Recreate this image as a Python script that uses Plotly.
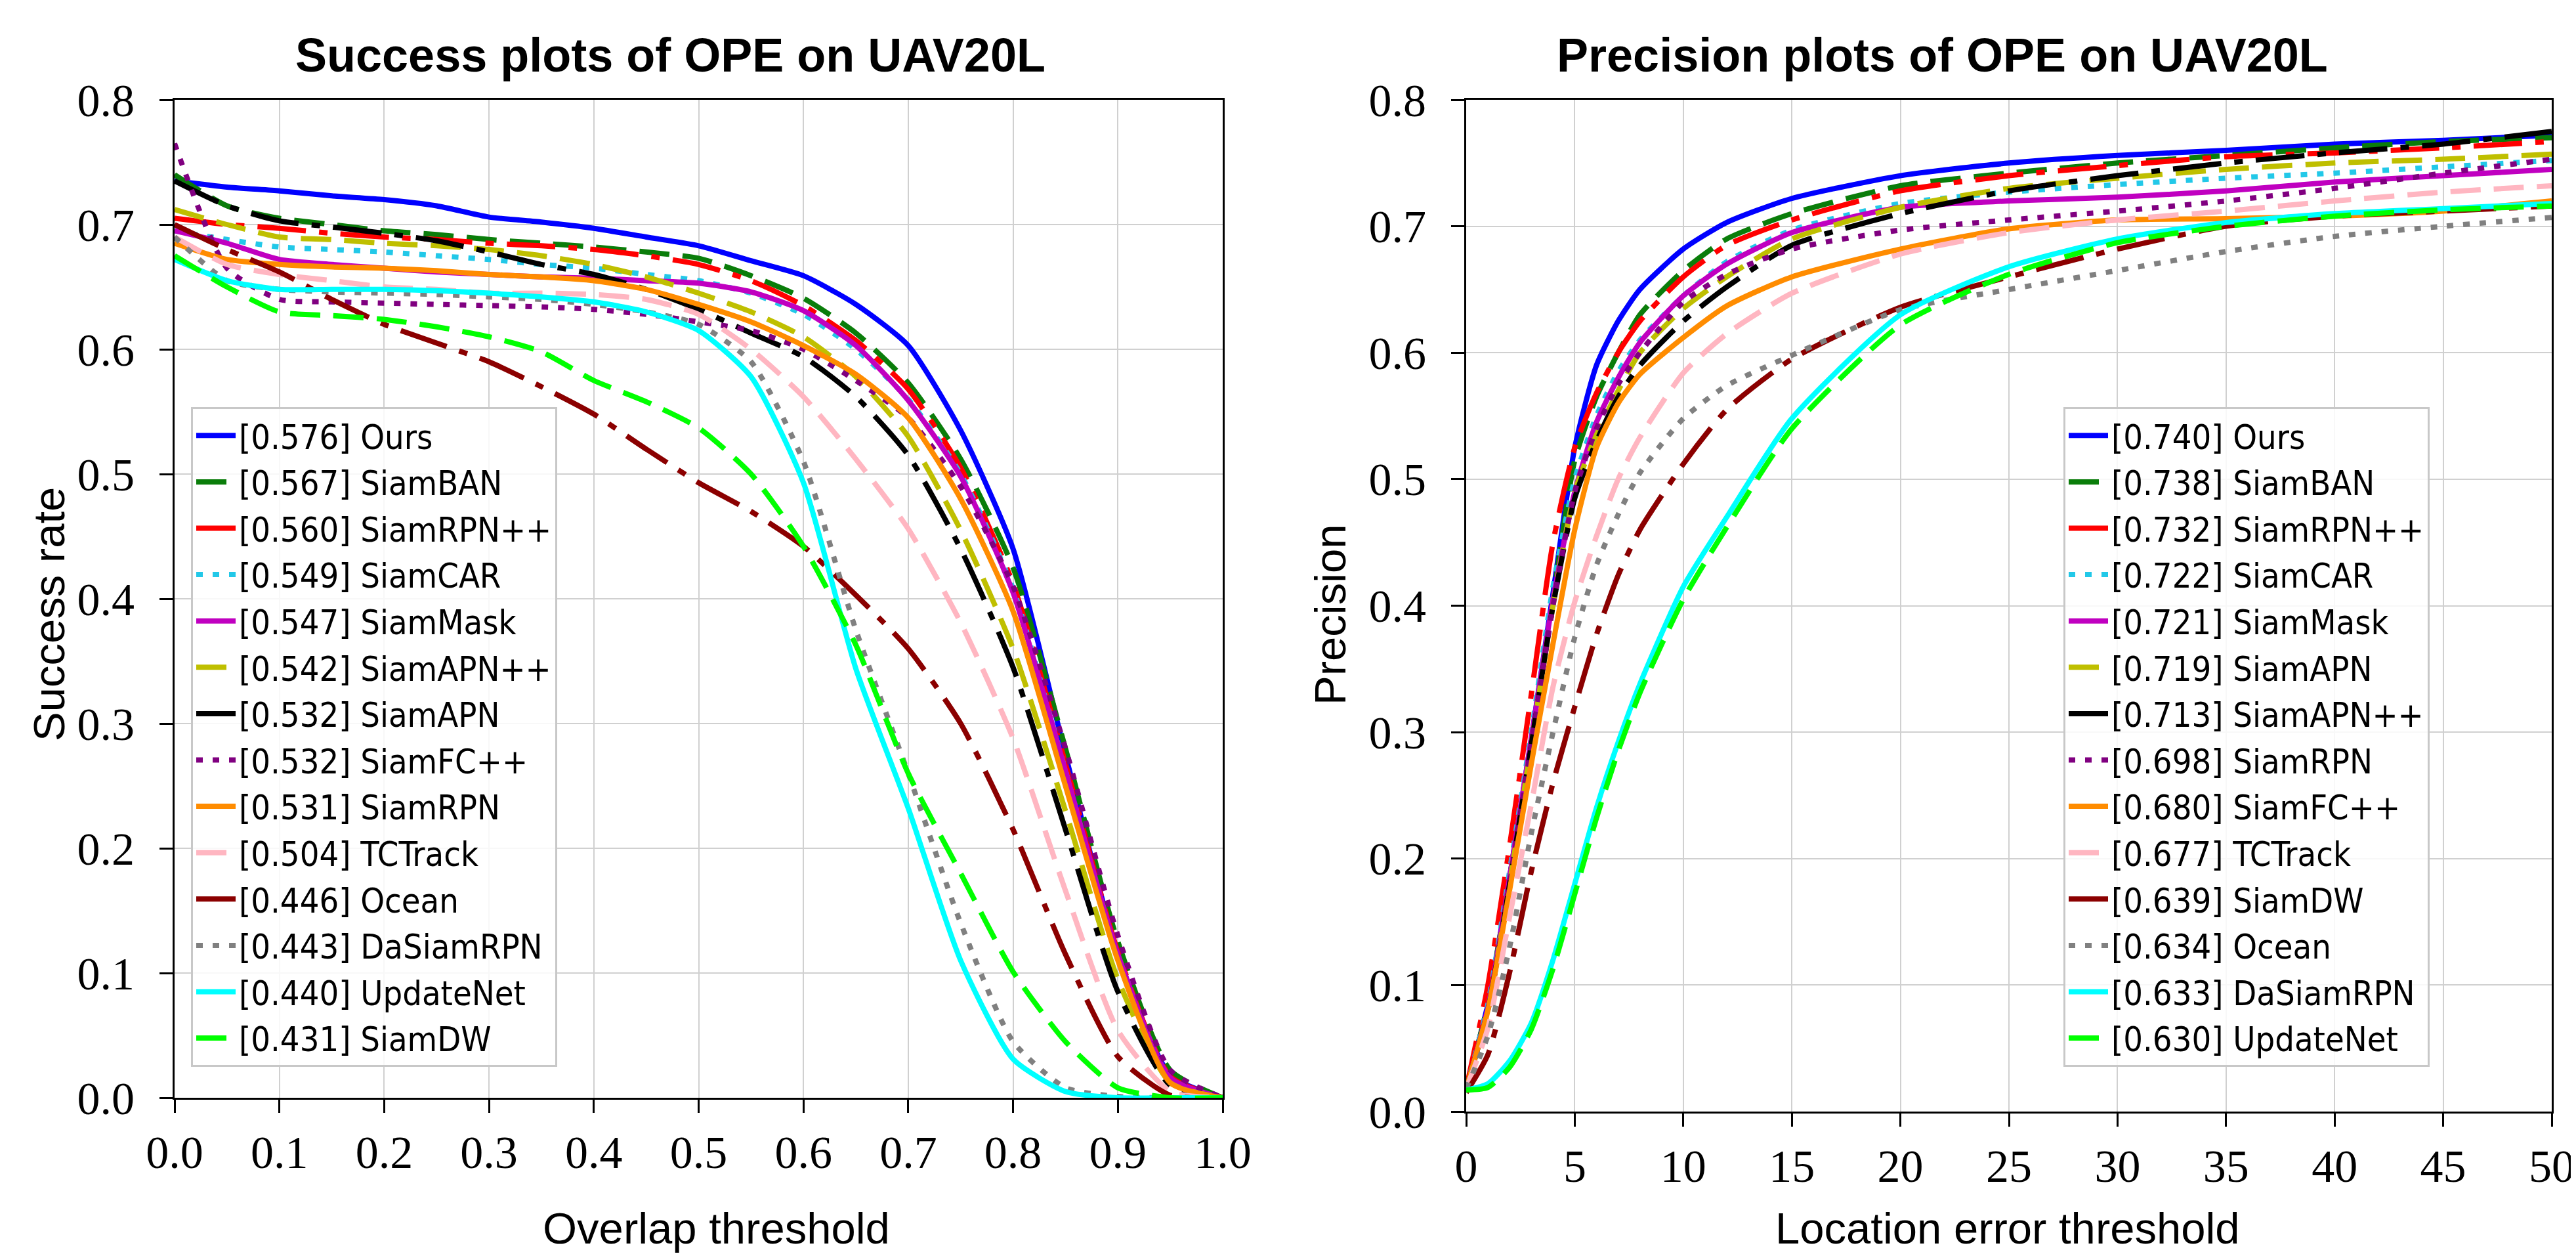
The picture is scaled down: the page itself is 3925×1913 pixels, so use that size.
import plotly.graph_objects as go

# Success plot (overlap threshold 0..1)
success_x = [0.0, 0.05, 0.1, 0.15, 0.2, 0.25, 0.3, 0.35, 0.4, 0.45, 0.5,
             0.55, 0.6, 0.65, 0.7, 0.75, 0.8, 0.85, 0.9, 0.95, 1.0]
success_names = ["Ours", "SiamBAN", "SiamRPN++", "SiamCAR", "SiamMask", "SiamAPN++", "SiamAPN",
                 "SiamFC++", "SiamRPN", "TCTrack", "Ocean", "DaSiamRPN", "UpdateNet", "SiamDW"]
success_auc = [0.576, 0.567, 0.560, 0.549, 0.547, 0.542, 0.532, 0.532, 0.531, 0.504, 0.446, 0.443, 0.440, 0.431]

succ_ours = [0.735, 0.730, 0.727, 0.723, 0.720, 0.715, 0.706, 0.702, 0.697, 0.690, 0.683,
             0.671, 0.659, 0.636, 0.603, 0.535, 0.440, 0.275, 0.115, 0.018, 0.0]
succ_siamban = [0.740, 0.715, 0.705, 0.700, 0.695, 0.692, 0.688, 0.685, 0.682, 0.678, 0.673,
                0.659, 0.641, 0.613, 0.573, 0.512, 0.425, 0.280, 0.125, 0.022, 0.0]
succ_siamrpnpp = [0.705, 0.700, 0.697, 0.693, 0.690, 0.688, 0.685, 0.683, 0.680, 0.675, 0.668,
                  0.655, 0.635, 0.607, 0.568, 0.505, 0.412, 0.268, 0.117, 0.017, 0.0]
succ_siamcar = [0.695, 0.688, 0.682, 0.680, 0.678, 0.675, 0.672, 0.668, 0.665, 0.660, 0.655,
                0.645, 0.628, 0.600, 0.560, 0.500, 0.408, 0.262, 0.112, 0.015, 0.0]
succ_siammask = [0.695, 0.685, 0.672, 0.668, 0.665, 0.662, 0.660, 0.658, 0.657, 0.655, 0.653,
                 0.646, 0.631, 0.603, 0.559, 0.498, 0.405, 0.262, 0.115, 0.016, 0.0]
succ_siamapnpp = [0.712, 0.700, 0.690, 0.688, 0.685, 0.683, 0.680, 0.675, 0.668, 0.658, 0.645,
                  0.630, 0.610, 0.578, 0.530, 0.455, 0.360, 0.230, 0.095, 0.012, 0.0]
succ_siamapn = [0.735, 0.715, 0.703, 0.698, 0.693, 0.687, 0.678, 0.668, 0.660, 0.648, 0.632,
                0.613, 0.594, 0.562, 0.515, 0.440, 0.345, 0.215, 0.085, 0.010, 0.0]
succ_siamfcpp = [0.765, 0.665, 0.640, 0.638, 0.637, 0.636, 0.635, 0.634, 0.632, 0.628, 0.622,
                 0.615, 0.600, 0.575, 0.545, 0.490, 0.410, 0.280, 0.130, 0.022, 0.0]
succ_siamrpn = [0.685, 0.672, 0.668, 0.666, 0.665, 0.663, 0.660, 0.658, 0.655, 0.648, 0.636,
                0.622, 0.603, 0.580, 0.545, 0.480, 0.390, 0.250, 0.110, 0.012, 0.0]
succ_tctrack = [0.690, 0.668, 0.660, 0.655, 0.650, 0.648, 0.645, 0.645, 0.644, 0.640, 0.628,
                0.600, 0.562, 0.512, 0.456, 0.381, 0.288, 0.166, 0.054, 0.005, 0.0]
succ_ocean = [0.700, 0.680, 0.662, 0.640, 0.620, 0.605, 0.590, 0.570, 0.548, 0.520, 0.493,
              0.470, 0.442, 0.403, 0.360, 0.300, 0.215, 0.115, 0.033, 0.002, 0.0]
succ_dasiamrpn = [0.690, 0.655, 0.648, 0.646, 0.645, 0.644, 0.642, 0.640, 0.636, 0.630, 0.620,
                  0.590, 0.510, 0.375, 0.260, 0.140, 0.045, 0.008, 0.001, 0.0, 0.0]
succ_updatenet = [0.672, 0.655, 0.648, 0.648, 0.648, 0.647, 0.645, 0.642, 0.638, 0.630, 0.615,
                  0.578, 0.493, 0.344, 0.232, 0.110, 0.031, 0.005, 0.0, 0.0, 0.0]
succ_siamdw = [0.675, 0.650, 0.630, 0.627, 0.624, 0.618, 0.610, 0.598, 0.575, 0.558, 0.537,
               0.500, 0.442, 0.363, 0.260, 0.180, 0.101, 0.045, 0.008, 0.0, 0.0]

success_curves = [succ_ours, succ_siamban, succ_siamrpnpp, succ_siamcar, succ_siammask,
                  succ_siamapnpp, succ_siamapn, succ_siamfcpp, succ_siamrpn, succ_tctrack,
                  succ_ocean, succ_dasiamrpn, succ_updatenet, succ_siamdw]

# Precision plot (location error threshold 0..50)
precision_x = [0, 1, 2, 3, 4, 5, 6, 7, 8, 10, 12, 15, 20, 25, 30, 35, 40, 45, 50]
precision_names = ["Ours", "SiamBAN", "SiamRPN++", "SiamCAR", "SiamMask", "SiamAPN", "SiamAPN++",
                   "SiamRPN", "SiamFC++", "TCTrack", "SiamDW", "Ocean", "DaSiamRPN", "UpdateNet"]
precision_score = [0.740, 0.738, 0.732, 0.722, 0.721, 0.719, 0.713, 0.698, 0.680, 0.677, 0.639, 0.634, 0.633, 0.630]

prec_ours = [0.018, 0.085, 0.185, 0.295, 0.410, 0.525, 0.590, 0.625, 0.650, 0.682, 0.703,
             0.722, 0.740, 0.750, 0.756, 0.760, 0.765, 0.768, 0.772]
prec_siamban = [0.018, 0.085, 0.185, 0.290, 0.405, 0.515, 0.565, 0.600, 0.630, 0.665, 0.690,
                0.710, 0.732, 0.742, 0.750, 0.756, 0.762, 0.767, 0.770]
prec_siamrpnpp = [0.018, 0.100, 0.210, 0.330, 0.450, 0.525, 0.568, 0.600, 0.625, 0.660, 0.685,
                  0.705, 0.728, 0.740, 0.748, 0.755, 0.758, 0.762, 0.767]
prec_siamcar = [0.018, 0.085, 0.190, 0.300, 0.415, 0.500, 0.550, 0.585, 0.610, 0.645, 0.672,
                0.697, 0.718, 0.727, 0.733, 0.738, 0.742, 0.747, 0.752]
prec_siammask = [0.018, 0.082, 0.185, 0.295, 0.405, 0.490, 0.545, 0.580, 0.608, 0.645, 0.670,
                 0.695, 0.715, 0.720, 0.723, 0.728, 0.735, 0.740, 0.745]
prec_siamapn = [0.018, 0.080, 0.180, 0.290, 0.400, 0.490, 0.535, 0.570, 0.600, 0.635, 0.660,
                0.690, 0.715, 0.730, 0.738, 0.745, 0.750, 0.753, 0.757]
prec_siamapnpp = [0.018, 0.080, 0.180, 0.290, 0.400, 0.485, 0.530, 0.565, 0.590, 0.625, 0.652,
                  0.685, 0.710, 0.728, 0.740, 0.750, 0.758, 0.765, 0.775]
prec_siamrpn = [0.018, 0.080, 0.180, 0.290, 0.400, 0.490, 0.540, 0.575, 0.600, 0.640, 0.662,
                0.682, 0.697, 0.705, 0.712, 0.720, 0.730, 0.742, 0.753]
prec_siamfcpp = [0.018, 0.080, 0.175, 0.275, 0.370, 0.460, 0.525, 0.560, 0.583, 0.612, 0.637,
                 0.660, 0.682, 0.698, 0.705, 0.706, 0.708, 0.712, 0.720]
prec_tctrack = [0.018, 0.066, 0.154, 0.243, 0.336, 0.403, 0.455, 0.500, 0.533, 0.584, 0.615,
                0.647, 0.678, 0.695, 0.705, 0.712, 0.720, 0.727, 0.732]
prec_siamdw = [0.015, 0.045, 0.110, 0.190, 0.260, 0.320, 0.377, 0.424, 0.460, 0.512, 0.555,
               0.595, 0.636, 0.660, 0.682, 0.700, 0.708, 0.712, 0.716]
prec_ocean = [0.018, 0.060, 0.130, 0.220, 0.300, 0.375, 0.432, 0.472, 0.505, 0.548, 0.574,
              0.598, 0.634, 0.650, 0.665, 0.680, 0.692, 0.700, 0.707]
prec_dasiamrpn = [0.017, 0.022, 0.040, 0.070, 0.120, 0.180, 0.240, 0.292, 0.338, 0.415, 0.470,
                  0.548, 0.630, 0.668, 0.690, 0.703, 0.710, 0.714, 0.718]
prec_updatenet = [0.017, 0.019, 0.035, 0.065, 0.113, 0.172, 0.232, 0.285, 0.331, 0.405, 0.462,
                  0.540, 0.622, 0.662, 0.687, 0.700, 0.708, 0.713, 0.716]

precision_curves = [prec_ours, prec_siamban, prec_siamrpnpp, prec_siamcar, prec_siammask,
                    prec_siamapn, prec_siamapnpp, prec_siamrpn, prec_siamfcpp, prec_tctrack,
                    prec_siamdw, prec_ocean, prec_dasiamrpn, prec_updatenet]

# line styles by rank (same for both plots)
colors = ["#0000FF", "#0A7D0A", "#FF0000", "#22C8E8", "#C000C0", "#BFBF00", "#000000",
          "#800080", "#FF8C00", "#FFB6C1", "#8B0000", "#808080", "#00FFFF", "#00FF00"]
dash_cycle = ["solid", "46px,20px", "74px,20px,13px,20px", "10px,15px"]
LW = 8

W, H = 3925, 1913
TICK_FONT = dict(family="Liberation Serif", size=70, color="black")
LABEL_FONT = dict(family="Liberation Sans", size=67, color="black")
TITLE_FONT = dict(family="Liberation Sans", size=72, color="black")
GRID = "#d0d0d0"

fig = go.Figure()

for i, (name, auc, ys) in enumerate(zip(success_names, success_auc, success_curves)):
    fig.add_trace(go.Scatter(
        x=success_x, y=ys, mode="lines", name=f"[{auc:.3f}] {name}",
        line=dict(color=colors[i], width=LW, dash=dash_cycle[i % 4], shape="spline", smoothing=0.6),
        xaxis="x", yaxis="y", legend="legend",
    ))

for i, (name, sc, ys) in enumerate(zip(precision_names, precision_score, precision_curves)):
    fig.add_trace(go.Scatter(
        x=precision_x, y=ys, mode="lines", name=f"[{sc:.3f}] {name}",
        line=dict(color=colors[i], width=LW, dash=dash_cycle[i % 4], shape="spline", smoothing=0.6),
        xaxis="x2", yaxis="y2", legend="legend2",
    ))

axis_common = dict(
    showline=True, linecolor="black", linewidth=3, mirror=True,
    ticks="outside", ticklen=20, tickwidth=3, tickcolor="black",
    showgrid=True, gridcolor=GRID, gridwidth=2, zeroline=False,
    tickfont=TICK_FONT, automargin=False,
)

legend_common = dict(
    font=dict(family="Liberation Sans Narrow, DejaVu Sans Condensed, Roboto", size=52, color="black"),
    bgcolor="rgba(255,255,255,0.85)", bordercolor="#c8c8c8", borderwidth=3,
    xanchor="left", yanchor="top", tracegroupgap=0, itemwidth=60,
)


def paper_text(text, px, py, font, angle=0):
    return dict(text=text, x=px / W, y=1 - py / H, xref="paper", yref="paper",
                showarrow=False, xanchor="center", yanchor="middle", font=font, textangle=angle)


fig.update_layout(
    width=W, height=H,
    margin=dict(l=0, r=0, t=0, b=0),
    paper_bgcolor="white", plot_bgcolor="white",
    xaxis=dict(axis_common, domain=[258 / W, 1855 / W], range=[0, 1], dtick=0.1,
               tickformat=".1f", anchor="y", ticklabelstandoff=0),
    yaxis=dict(axis_common, domain=[1 - 1664 / H, 1 - 144 / H], range=[0, 0.8], dtick=0.1,
               tickformat=".1f", anchor="x", ticklabelstandoff=24),
    xaxis2=dict(axis_common, domain=[2226 / W, 3880 / W], range=[0, 50], dtick=5,
                anchor="y2", ticklabelstandoff=0),
    yaxis2=dict(axis_common, domain=[1 - 1685 / H, 1 - 144 / H], range=[0, 0.8], dtick=0.1,
                tickformat=".1f", anchor="x2", ticklabelstandoff=24),
    legend=dict(legend_common, x=283 / W, y=1 - 612 / H),
    legend2=dict(legend_common, x=3136 / W, y=1 - 612 / H),
    annotations=[
        paper_text("<b>Success plots of OPE on UAV20L</b>", 1014, 76, TITLE_FONT),
        paper_text("<b>Precision plots of OPE on UAV20L</b>", 2951, 76, TITLE_FONT),
        paper_text("Overlap threshold", 1083, 1862, LABEL_FONT),
        paper_text("Location error threshold", 3051, 1862, LABEL_FONT),
        paper_text("Success rate", 66, 928, LABEL_FONT, -90),
        paper_text("Precision", 2018, 928, LABEL_FONT, -90),
    ],
)

fig.write_html("out.html")
